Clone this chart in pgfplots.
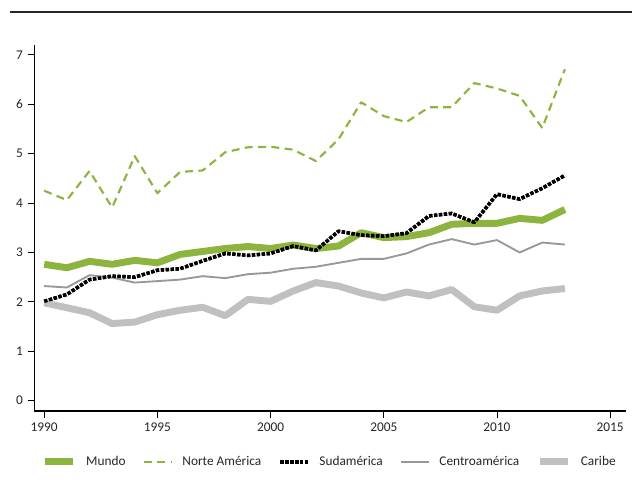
\documentclass[border=0pt]{standalone}
\usepackage{pgfplots}
\usepackage{pgfplotstable}
\pgfplotsset{compat=1.18}
\usepackage{fontspec}
\setmainfont{Carlito}

\definecolor{verde}{HTML}{8DB43E}
\definecolor{grisclaro}{HTML}{C0C0C0}
\definecolor{grismedio}{HTML}{989898}
\definecolor{texto}{HTML}{262626}

% anio, mundo, norte, sud, centro, caribe
\pgfplotstableread{
anio mundo norte sud centro caribe
1990 2.76 4.25 2.01 2.32 1.98
1991 2.69 4.06 2.15 2.29 1.88
1992 2.82 4.65 2.45 2.54 1.78
1993 2.76 3.91 2.52 2.49 1.56
1994 2.84 4.95 2.50 2.39 1.59
1995 2.79 4.20 2.64 2.42 1.74
1996 2.96 4.63 2.67 2.45 1.83
1997 3.02 4.66 2.83 2.52 1.89
1998 3.08 5.03 2.98 2.48 1.72
1999 3.12 5.13 2.94 2.56 2.05
2000 3.08 5.14 2.98 2.59 2.01
2001 3.15 5.08 3.13 2.67 2.22
2002 3.08 4.85 3.04 2.71 2.39
2003 3.13 5.29 3.43 2.79 2.32
2004 3.40 6.04 3.35 2.87 2.18
2005 3.30 5.76 3.33 2.87 2.08
2006 3.32 5.64 3.39 2.98 2.20
2007 3.40 5.94 3.74 3.16 2.12
2008 3.57 5.94 3.79 3.27 2.25
2009 3.59 6.43 3.61 3.16 1.90
2010 3.59 6.32 4.18 3.25 1.83
2011 3.69 6.17 4.08 3.00 2.12
2012 3.65 5.52 4.30 3.20 2.22
2013 3.87 6.71 4.56 3.16 2.27
}\datos

\begin{document}
\begin{tikzpicture}
\path[use as bounding box] (0,0) rectangle (474pt,369.75pt);
\draw[texto, line width=0.9pt] (7.5pt,360.75pt) -- (474pt,360.75pt);
\begin{axis}[
    at={(25.7pt,61.5pt)}, anchor=south west,
    scale only axis, width=443.8pt, height=274.5pt,
    axis lines*=left,
    axis line style={black, line width=0.8pt},
    xmin=1989.56, xmax=2015.7,
    ymin=-0.21, ymax=7.2,
    xtick={1990,1995,...,2015},
    ytick={0,1,...,7},
    tick align=outside,
    major tick length=5pt,
    tick style={black, line width=0.6pt},
    xticklabel style={/pgf/number format/1000 sep={}},
    /pgf/number format/assume math mode=true,
    ticklabel style={font=\fontsize{10}{12}\selectfont, text=texto},
    legend columns=5,
    legend style={draw=none, fill=none, at={(0.5,-0.139)}, anchor=center,
        font=\fontsize{10}{12}\selectfont, text=texto,
        /tikz/every odd column/.append style={column sep=5pt},
        /tikz/every even column/.append style={column sep=11pt}},
    legend image code/.code={\draw[#1, line cap=butt] (0pt,0pt) -- (21pt,0pt);},
    line join=round,
]
\addplot[verde, line width=5.2pt] table[x=anio, y=mundo] {\datos};
\addlegendentry{Mundo}
\addplot[verde, line width=1.6pt, dash pattern=on 6pt off 4pt] table[x=anio, y=norte] {\datos};
\addlegendentry{Norte América}
\addplot[black, line width=2.6pt, dash pattern=on 2.5pt off 1.2pt] table[x=anio, y=sud] {\datos};
\addlegendentry{Sudamérica}
\addplot[grismedio, line width=1.4pt] table[x=anio, y=centro] {\datos};
\addlegendentry{Centroamérica}
\addplot[grisclaro, line width=5.2pt] table[x=anio, y=caribe] {\datos};
\addlegendentry{Caribe}
\addplot[black, line width=2.6pt, dash pattern=on 2.5pt off 1.2pt, forget plot] table[x=anio, y=sud] {\datos};
\end{axis}
\end{tikzpicture}
\end{document}
